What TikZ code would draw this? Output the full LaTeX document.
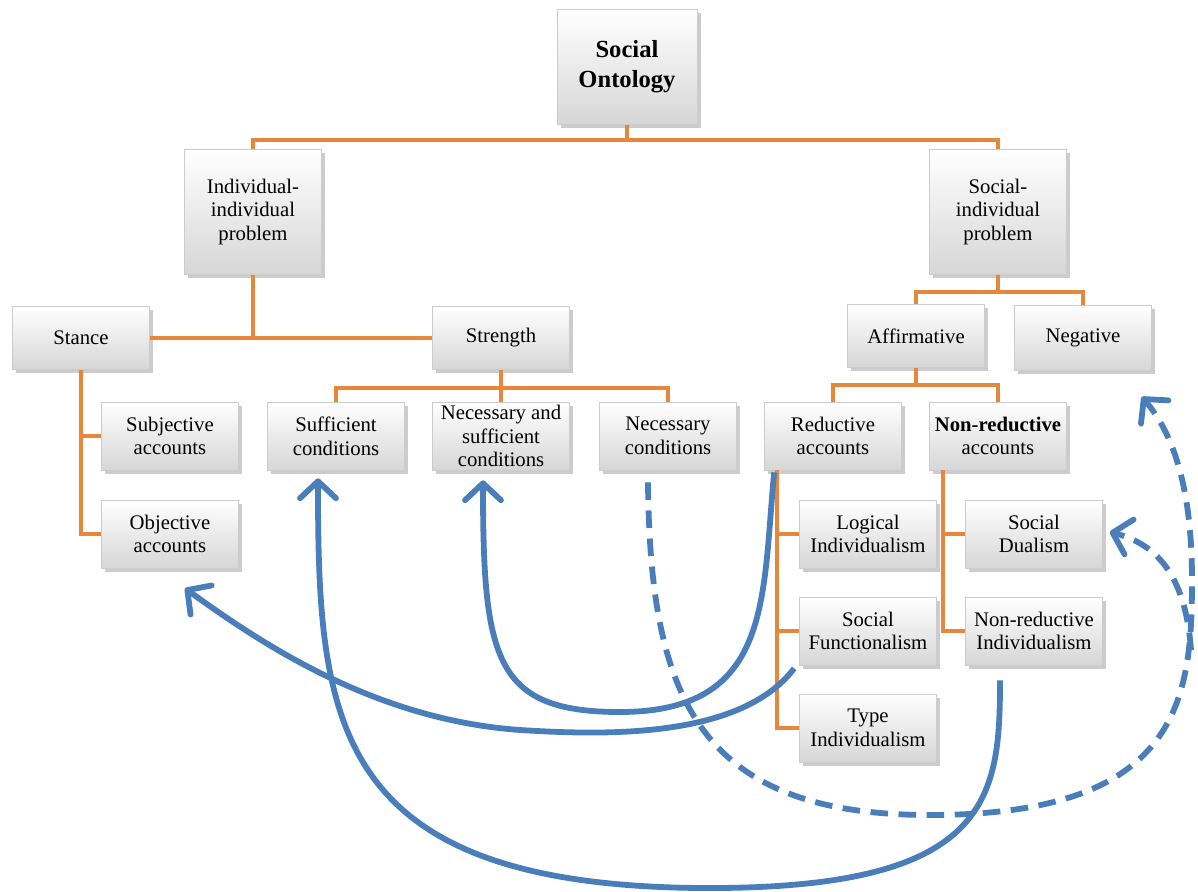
\documentclass[tikz,border=0pt]{standalone}
\usepackage{fontspec}
\setmainfont{Liberation Serif}
\usetikzlibrary{arrows.meta,positioning,shadows}
\definecolor{treeorange}{RGB}{230,135,60}
\definecolor{linkblue}{RGB}{74,126,187}

\begin{document}
\begin{tikzpicture}[x=0.02cm, y=-0.02cm,
		box/.style={rectangle, draw=gray!40, top color=white, bottom color=gray!32, drop shadow={opacity=0.4, shadow xshift=2pt, shadow yshift=-2pt}, align=center, inner sep=1pt, minimum width=2.74cm, minimum height=1.36cm, font=\fontsize{11.8}{13.5}\selectfont},
		tree/.style={draw=treeorange, line width=2.1pt},
		link/.style={draw=linkblue, line width=3.3pt, -{Straight Barb[length=0.34cm, width=0.72cm, round]}},
		maybe/.style={link, dash pattern=on 10pt off 6pt}]
	\useasboundingbox (0,0) rectangle (1198,892);

	% top levels
	\node[box, minimum width=2.8cm, minimum height=2.3cm, font=\fontsize{14}{17}\selectfont\bfseries] (onto) at (627,67) {Social\\Ontology};
	\node[box, minimum height=2.5cm] (indiv) at (253,212) {Individual-\\individual\\problem};
	\node[box, minimum height=2.5cm] (social) at (998,212) {Social-\\individual\\problem};
	\node[box, minimum height=1.26cm] (stance) at (81,338) {Stance};
	\node[box, minimum height=1.26cm] (strength) at (501,338) {Strength};
	\node[box, minimum height=1.26cm] (affirm) at (916,336) {Affirmative};
	\node[box, minimum height=1.3cm] (negative) at (1083,338) {Negative};

	% third row
	\node[box] (subjective) at (170,436) {Subjective\\accounts};
	\node[box] (suff) at (336,436) {Sufficient\\conditions};
	\node[box] (nas) at (501,436) {Necessary and\\sufficient\\conditions};
	\node[box] (nec) at (668,436) {Necessary\\conditions};
	\node[box] (reductive) at (833,436) {Reductive\\accounts};
	\node[box] (nonred) at (998,436) {{\bfseries Non-reductive}\\accounts};

	% lower rows
	\node[box] (objective) at (170,534) {Objective\\accounts};
	\node[box] (logical) at (868,534) {Logical\\Individualism};
	\node[box] (dualism) at (1034,534) {Social\\Dualism};
	\node[box] (functional) at (868,631) {Social\\Functionalism};
	\node[box] (nonredind) at (1034,631) {Non-reductive\\Individualism};
	\node[box] (typeind) at (868,728) {Type\\Individualism};

	% tree lines
	\draw[tree] (onto.south) -- ++(0,15) -| (indiv.north);
	\draw[tree] (onto.south) -- ++(0,15) -| (social.north);
	\draw[tree] (stance.east) -- (strength.west);
	\draw[tree] (indiv.south) -- (indiv.south |- stance.east);
	\draw[tree] (social.south) -- ++(0,17) -| (affirm.north);
	\draw[tree] (social.south) -- ++(0,17) -| (negative.north);
	\draw[tree] (stance.south) |- (objective.west);
	\draw[tree] (stance.south |- subjective.west) -- (subjective.west);
	\foreach \n in {suff,nas,nec}
		\draw[tree] (strength.south) -- ++(0,18) -| (\n.north);
	\draw[tree] (affirm.south) -- ++(0,17) -| (reductive.north);
	\draw[tree] (affirm.south) -- ++(0,17) -| (nonred.north);
	\coordinate (redtrunk) at ([xshift=0.26cm]reductive.south west);
	\draw[tree] (redtrunk) |- (typeind.west);
	\foreach \n in {logical,functional}
		\draw[tree] (redtrunk |- \n.west) -- (\n.west);
	\coordinate (nontrunk) at ([xshift=0.28cm]nonred.south west);
	\draw[tree] (nontrunk) |- (nonredind.west);
	\draw[tree] (nontrunk |- dualism.west) -- (dualism.west);

	% blue links
	\draw[link] ([shift={(10,2)}]reductive.south west) .. controls (762,600) and (772,712) .. (620,712)
		.. controls (495,712) and (483,660) .. ([shift={(-18,10)}]nas.south);
	\draw[link] ([shift={(-5,3)}]functional.south west) .. controls (740,740) and (600,735) .. (520,730)
		.. controls (380,720) and (270,650) .. ([shift={(15,20)}]objective.south);
	\draw[link] ([shift={(-34,15)}]nonredind.south) .. controls (1000,800) and (990,890) .. (700,888)
		.. controls (330,885) and (318,720) .. ([shift={(-18,8)}]suff.south);
	\draw[maybe] ([shift={(-20,12)}]nec.south) .. controls (650,700) and (700,815) .. (930,815)
		.. controls (1180,815) and (1192,700) .. (1192,580)
		.. controls (1192,480) and (1170,430) .. ([shift={(-10,26)}]negative.south east);
	\coordinate (fork) at (1191,650);
	\draw[maybe] (fork) .. controls (1186,580) and (1160,545) .. ([shift={(7,-2)}]dualism.east);
\end{tikzpicture}
\end{document}
